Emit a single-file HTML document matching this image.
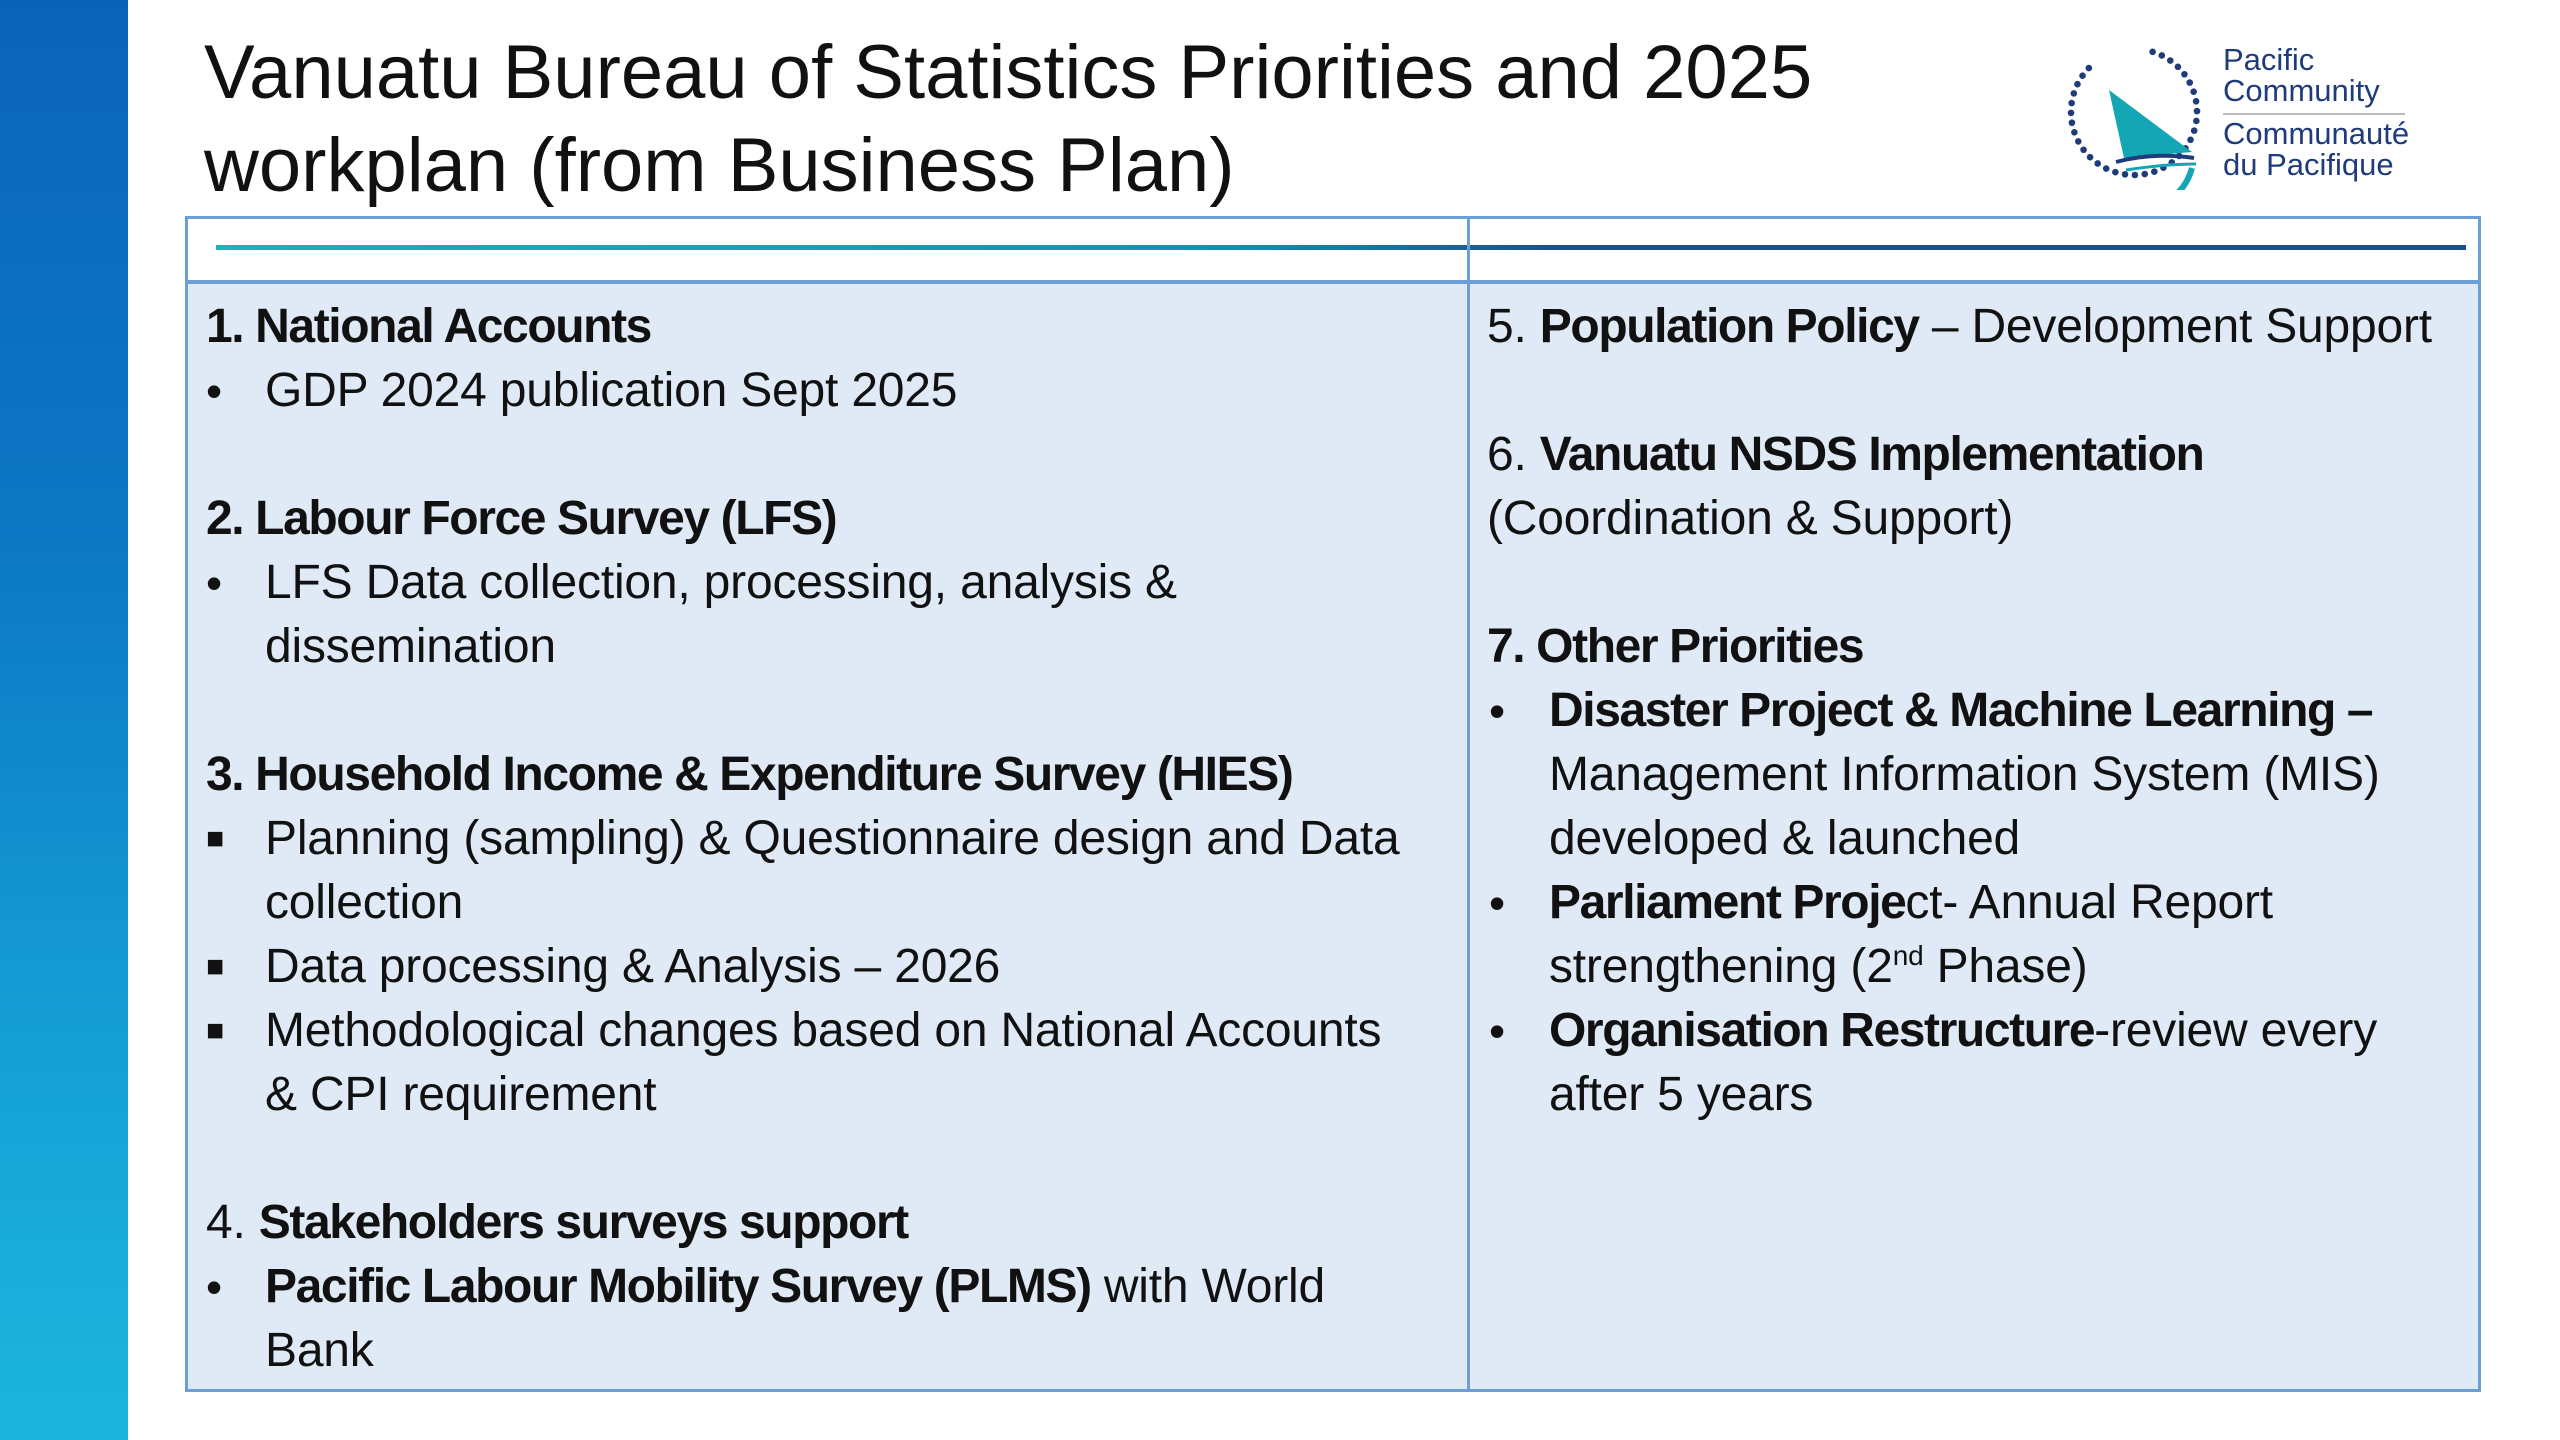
<!DOCTYPE html>
<html><head><meta charset="utf-8"><style>
*{margin:0;padding:0;box-sizing:border-box}
body{width:2560px;height:1440px;background:#fff;position:relative;overflow:hidden;font-family:"Liberation Sans",sans-serif;color:#111}
#band{position:absolute;left:0;top:0;width:128px;height:1440px;background:linear-gradient(180deg,#0b63b8 0%,#0d7ac6 40%,#16a2d6 75%,#1cb6dc 100%)}
#title{position:absolute;left:204px;top:26px;font-size:76px;line-height:93px;color:#111;letter-spacing:0px}
#table{position:absolute;left:185px;top:216px;width:2296px;height:1176px;border:3px solid #6a9fd8;background:#dfeaf6}
#head{position:absolute;left:0;top:0;width:100%;height:65px;background:#fff;border-bottom:4px solid #6a9fd8}
#hline{position:absolute;left:28px;top:26px;width:2250px;height:5px;background:linear-gradient(90deg,#1fb0b8 0%,#1a8cb0 45%,#1a4f8c 60%,#1a4f8c 100%)}
#div{position:absolute;left:1279px;top:0;width:3px;height:100%;background:#6a9fd8}
.l{position:absolute;font-size:48px;line-height:64px;white-space:nowrap;letter-spacing:-0.2px}
b{font-weight:bold;letter-spacing:-1.4px}
.bul{position:absolute;font-size:46px;line-height:64px}
</style></head><body>
<div id="band"></div>
<div id="title">Vanuatu Bureau of Statistics Priorities and 2025<br>workplan (from Business Plan)</div>
<svg style="position:absolute;left:2064px;top:40px" width="380" height="150">
<g id="dots"></g>
<polygon points="45,50 60,118 128,112" fill="#14a6b4"/>
<path d="M52,122 Q90,112 130,118" stroke="#1f3c7a" stroke-width="4" fill="none"/>
<path d="M62,130 Q100,124 132,124" stroke="#14a6b4" stroke-width="3" fill="none"/>
<path d="M128,128 Q118,165 70,172" stroke="#14a6b4" stroke-width="6" fill="none"/>
<text x="159" y="30" font-family="Liberation Sans,sans-serif" font-size="31" fill="#1f3c7a">Pacific</text>
<text x="159" y="61" font-family="Liberation Sans,sans-serif" font-size="31" fill="#1f3c7a">Community</text>
<line x1="159" y1="74" x2="341" y2="74" stroke="#bbb" stroke-width="2"/>
<text x="159" y="104" font-family="Liberation Sans,sans-serif" font-size="31" fill="#1f3c7a">Communauté</text>
<text x="159" y="135" font-family="Liberation Sans,sans-serif" font-size="31" fill="#1f3c7a">du Pacifique</text>
</svg>
<script>
(function(){var g=document.getElementById('dots');var ns='http://www.w3.org/2000/svg';
for(var i=0;i<34;i++){var a=-Math.PI/2+i*2*Math.PI/40+0.3;var c=document.createElementNS(ns,'circle');
c.setAttribute('cx',70+63*Math.cos(a));c.setAttribute('cy',72+63*Math.sin(a));c.setAttribute('r',3.3);c.setAttribute('fill','#1f3c7a');


g.appendChild(c);}})();
</script>
<div id="table">
<div id="head"><div id="hline"></div></div>
<div id="div"></div>
</div>
<div id="content">
<div class="l" style="left:206px;top:295px"><b>1. National Accounts</b></div>
<div class="bul" style="left:206px;top:359px">•</div>
<div class="l" style="left:265px;top:359px">GDP 2024 publication Sept 2025</div>
<div class="l" style="left:206px;top:487px"><b>2. Labour Force Survey (LFS)</b></div>
<div class="bul" style="left:206px;top:551px">•</div>
<div class="l" style="left:265px;top:551px">LFS Data collection, processing, analysis &amp;</div>
<div class="l" style="left:265px;top:615px">dissemination</div>
<div class="l" style="left:206px;top:743px"><b>3. Household Income &amp; Expenditure Survey (HIES)</b></div>
<div class="bul" style="left:206px;top:807px;font-size:30px">■</div>
<div class="l" style="left:265px;top:807px">Planning (sampling) &amp; Questionnaire design and Data</div>
<div class="l" style="left:265px;top:871px">collection</div>
<div class="bul" style="left:206px;top:935px;font-size:30px">■</div>
<div class="l" style="left:265px;top:935px">Data processing &amp; Analysis – 2026</div>
<div class="bul" style="left:206px;top:999px;font-size:30px">■</div>
<div class="l" style="left:265px;top:999px">Methodological changes based on National Accounts</div>
<div class="l" style="left:265px;top:1063px">&amp; CPI requirement</div>
<div class="l" style="left:206px;top:1191px">4. <b>Stakeholders surveys support</b></div>
<div class="bul" style="left:206px;top:1255px">•</div>
<div class="l" style="left:265px;top:1255px"><b>Pacific Labour Mobility Survey (PLMS)</b> with World</div>
<div class="l" style="left:265px;top:1319px">Bank</div>
<div class="l" style="left:1487px;top:295px">5. <b>Population Policy</b> – Development Support</div>
<div class="l" style="left:1487px;top:423px">6. <b>Vanuatu NSDS Implementation</b></div>
<div class="l" style="left:1487px;top:487px">(Coordination &amp; Support)</div>
<div class="l" style="left:1487px;top:615px"><b>7. Other Priorities</b></div>
<div class="bul" style="left:1489px;top:679px">•</div>
<div class="l" style="left:1549px;top:679px"><b>Disaster Project &amp; Machine Learning –</b></div>
<div class="l" style="left:1549px;top:743px">Management Information System (MIS)</div>
<div class="l" style="left:1549px;top:807px">developed &amp; launched</div>
<div class="bul" style="left:1489px;top:871px">•</div>
<div class="l" style="left:1549px;top:871px"><b>Parliament Proje</b>ct- Annual Report</div>
<div class="l" style="left:1549px;top:935px">strengthening (2<sup style="font-size:28px;line-height:0">nd</sup> Phase)</div>
<div class="bul" style="left:1489px;top:999px">•</div>
<div class="l" style="left:1549px;top:999px"><b>Organisation Restructure</b>-review every</div>
<div class="l" style="left:1549px;top:1063px">after 5 years</div>
</div>
</body></html>
